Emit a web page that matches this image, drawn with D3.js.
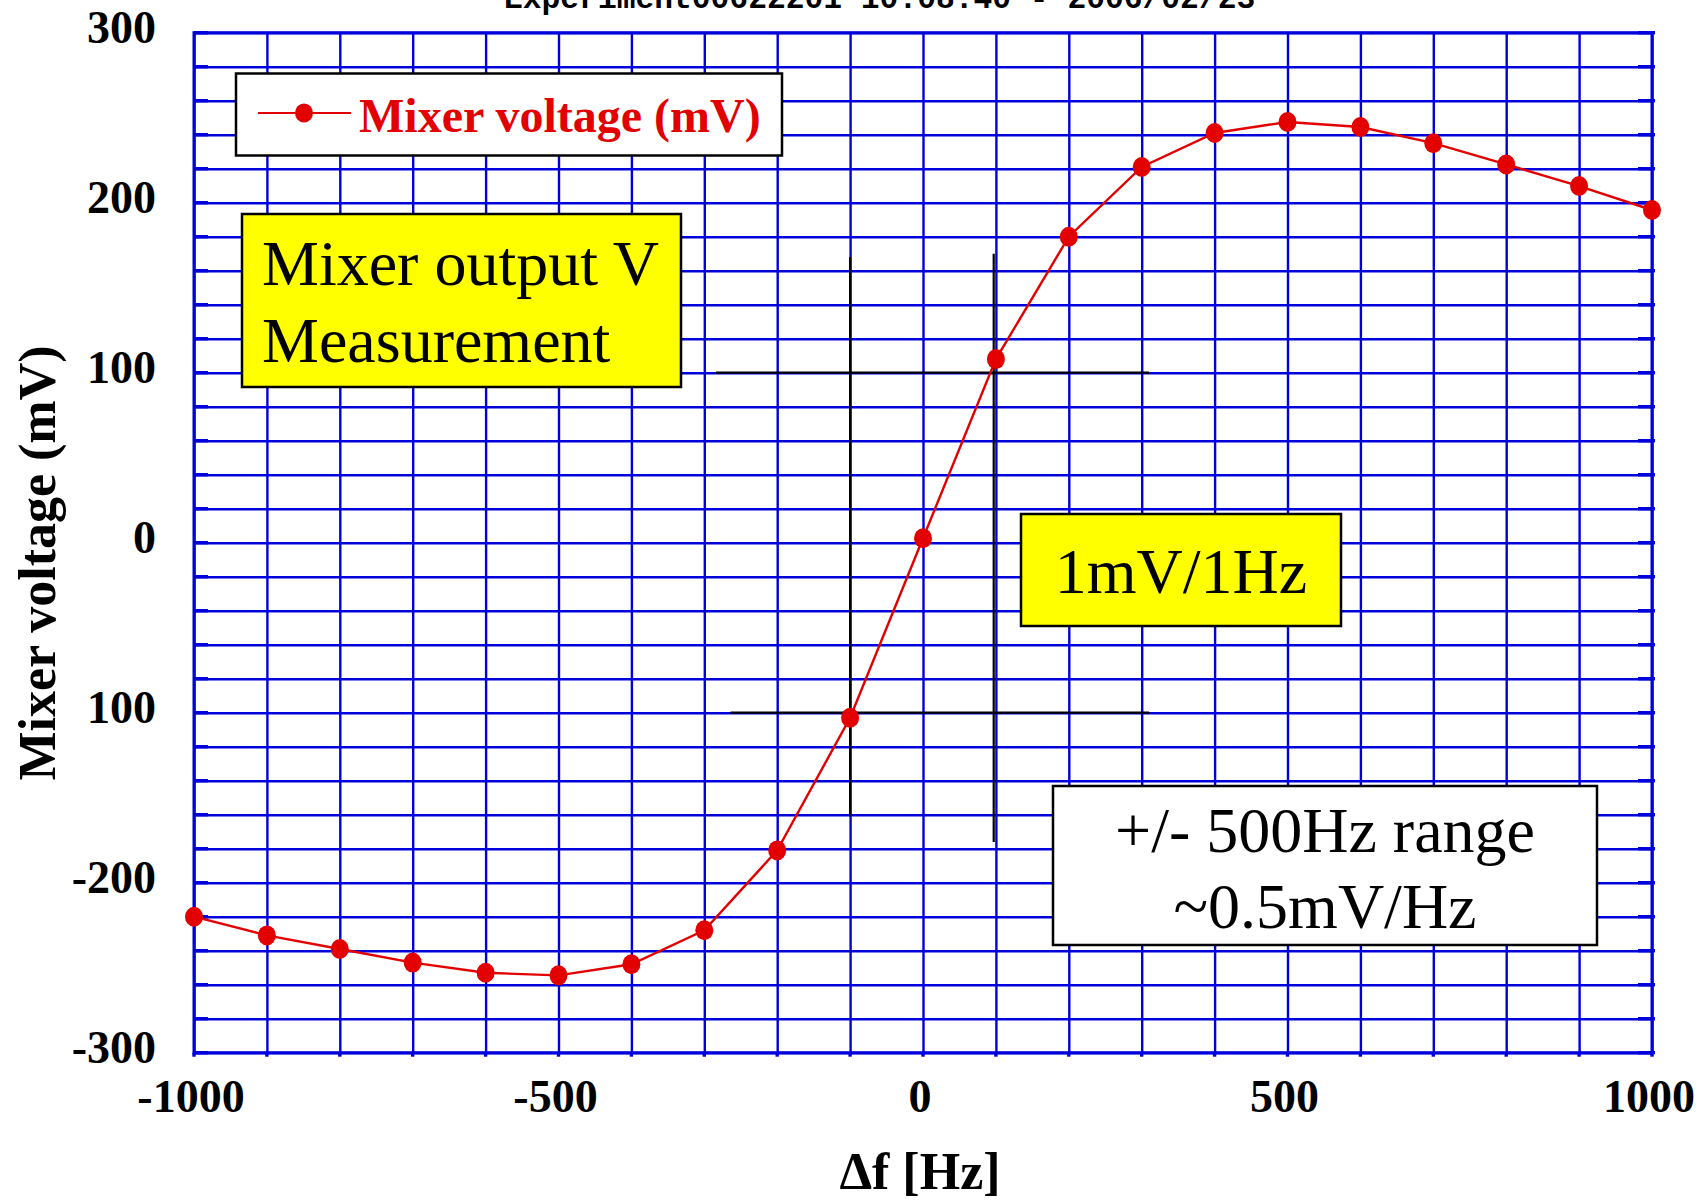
<!DOCTYPE html>
<html>
<head>
<meta charset="utf-8">
<script src="https://cdn.jsdelivr.net/npm/d3@7"></script>
<style>
  html, body { margin: 0; padding: 0; background: #ffffff; }
  svg { display: block; }
</style>
</head>
<body>
<script>
// Frequency offset steps (Hz) and measured mixer output (mV)
const freqHz = [-1000, -900, -800, -700, -600, -500, -400, -300, -200, -100,
                0, 100, 200, 300, 400, 500, 600, 700, 800, 900, 1000];
const mixerMv = [-220, -231, -239, -247, -253, -254.5, -248, -228, -181, -103,
                 2.6, 108, 180, 221, 241, 247.5, 244.5, 235, 222.5, 209.8, 195.7];

// Axis ticks and their printed labels
const xTickValues = [-1000, -500, 0, 500, 1000];
const xTickLabels = ["-1000", "-500", "0", "500", "1000"];
const yTickValues = [-300, -200, -100, 0, 100, 200, 300];
const yTickLabels = ["-300", "-200", "100", "0", "100", "200", "300"];

// Slope guide lines around the zero crossing (data units)
const guideFrom = [[-284, 100], [-264, -100], [-100, 168], [97, 170]];
const guideTo   = [[310, 100], [310, -100], [-100, -161], [97, -176]];

const W = 1708, H = 1201;
const RED = "#e30000", BLUE = "#0000dc";
const serif = "'Liberation Serif', 'Times New Roman', serif";

const svg = d3.select("body").append("svg")
  .attr("width", W).attr("height", H);

const x = d3.scaleLinear().domain([-1000, 1000]).range([194, 1652]);
const y = d3.scaleLinear().domain([-300, 300]).range([1052.7, 32.7]);

// Run header line
svg.append("text")
  .attr("x", 504).attr("y", 8)
  .attr("font-family", "'Liberation Mono', 'DejaVu Sans Mono', monospace")
  .attr("font-weight", "bold")
  .attr("font-size", 31.3)
  .attr("fill", "#000")
  .text("Experiment00622201 10:08:40 - 2006/02/23");

// Grid: vertical every 100 Hz, horizontal every 20 mV
const gridX = svg.append("g")
  .attr("transform", `translate(0,${y(-300)})`)
  .call(d3.axisBottom(x).tickValues(d3.range(-1000, 1001, 100))
    .tickSize(-(y(-300) - y(300))).tickFormat(""));
gridX.select(".domain").remove();
gridX.selectAll(".tick line").attr("stroke", BLUE).attr("stroke-width", 2.4);

const gridY = svg.append("g")
  .attr("transform", `translate(${x(-1000)},0)`)
  .call(d3.axisLeft(y).tickValues(d3.range(-300, 301, 20))
    .tickSize(-(x(1000) - x(-1000))).tickFormat(""));
gridY.select(".domain").remove();
gridY.selectAll(".tick line").attr("stroke", BLUE).attr("stroke-width", 2.4);

// Short tick marks on the frame (inside left/right, below bottom)
const tickG = svg.append("g").attr("stroke", BLUE).attr("stroke-width", 3.4);
d3.range(-300, 301, 20).forEach(v => {
  tickG.append("line").attr("x1", x(-1000)).attr("x2", x(-1000) + 14)
    .attr("y1", y(v)).attr("y2", y(v));
  tickG.append("line").attr("x1", x(1000) - 14).attr("x2", x(1000) + 3)
    .attr("y1", y(v)).attr("y2", y(v));
});
d3.range(-1000, 1001, 100).forEach(v => {
  tickG.append("line").attr("x1", x(v)).attr("x2", x(v))
    .attr("y1", y(-300)).attr("y2", y(-300) + 4);
});

// Plot frame
svg.append("rect")
  .attr("x", x(-1000)).attr("y", y(300))
  .attr("width", x(1000) - x(-1000)).attr("height", y(-300) - y(300))
  .attr("fill", "none").attr("stroke", BLUE).attr("stroke-width", 3);

// Y tick labels
svg.append("g").selectAll("text")
  .data(yTickValues)
  .join("text")
  .attr("x", 156)
  .attr("y", d => y(d) - 5)
  .attr("dy", "0.34em")
  .attr("text-anchor", "end")
  .attr("font-family", serif).attr("font-weight", "bold").attr("font-size", 46)
  .text((d, i) => yTickLabels[i]);

// X tick labels
svg.append("g").selectAll("text")
  .data(xTickValues)
  .join("text")
  .attr("x", d => x(d) - 3)
  .attr("y", 1112)
  .attr("text-anchor", "middle")
  .attr("font-family", serif).attr("font-weight", "bold").attr("font-size", 46)
  .text((d, i) => xTickLabels[i]);

// Axis titles
svg.append("text")
  .attr("x", 920).attr("y", 1189)
  .attr("text-anchor", "middle")
  .attr("font-family", serif).attr("font-weight", "bold").attr("font-size", 52)
  .text("\u0394f [Hz]");

svg.append("text")
  .attr("transform", "translate(55,563) rotate(-90)")
  .attr("text-anchor", "middle")
  .attr("font-family", serif).attr("font-weight", "bold").attr("font-size", 52)
  .text("Mixer voltage (mV)");

// Slope guide lines
svg.append("g").selectAll("line")
  .data(guideFrom)
  .join("line")
  .attr("x1", d => x(d[0])).attr("y1", d => y(d[1]))
  .attr("x2", (d, i) => x(guideTo[i][0])).attr("y2", (d, i) => y(guideTo[i][1]))
  .attr("stroke", "#000").attr("stroke-width", 2.2);

// Measured curve
const pts = freqHz.map((f, i) => [f, mixerMv[i]]);
svg.append("path")
  .datum(pts)
  .attr("fill", "none")
  .attr("stroke", RED).attr("stroke-width", 2.4)
  .attr("d", d3.line().x(d => x(d[0])).y(d => y(d[1])));

svg.append("g").selectAll("ellipse")
  .data(pts)
  .join("ellipse")
  .attr("cx", d => x(d[0])).attr("cy", d => y(d[1]))
  .attr("rx", 9).attr("ry", 10)
  .attr("fill", RED);

// Legend
svg.append("rect")
  .attr("x", 236).attr("y", 73.5).attr("width", 546).attr("height", 82)
  .attr("fill", "#fff").attr("stroke", "#000").attr("stroke-width", 2.5);
svg.append("line")
  .attr("x1", 258).attr("x2", 351).attr("y1", 113).attr("y2", 113)
  .attr("stroke", RED).attr("stroke-width", 2.2);
svg.append("ellipse")
  .attr("cx", 304).attr("cy", 113).attr("rx", 9).attr("ry", 9.5).attr("fill", RED);
svg.append("text")
  .attr("x", 359).attr("y", 132)
  .attr("font-family", serif).attr("font-weight", "bold").attr("font-size", 48)
  .attr("fill", RED)
  .text("Mixer voltage (mV)");

// Annotation boxes
function noteBox(bx, by, bw, bh, fill, lines, opts) {
  svg.append("rect")
    .attr("x", bx).attr("y", by).attr("width", bw).attr("height", bh)
    .attr("fill", fill).attr("stroke", "#000").attr("stroke-width", 2.5);
  lines.forEach((t, i) => {
    svg.append("text")
      .attr("x", opts.anchor === "middle" ? bx + bw / 2 : opts.tx)
      .attr("y", opts.baseline + i * 76.5)
      .attr("text-anchor", opts.anchor)
      .attr("font-family", serif).attr("font-size", 64)
      .attr("fill", "#000")
      .text(t);
  });
}

noteBox(242, 214, 439, 173, "#ffff00", ["Mixer output V", "Measurement"],
        { anchor: "start", tx: 262, baseline: 285 });
noteBox(1021, 514, 320, 112, "#ffff00", ["1mV/1Hz"],
        { anchor: "middle", baseline: 593 });
noteBox(1053, 786, 544, 159, "#ffffff", ["+/- 500Hz range", "~0.5mV/Hz"],
        { anchor: "middle", baseline: 851.5 });
</script>
</body>
</html>
